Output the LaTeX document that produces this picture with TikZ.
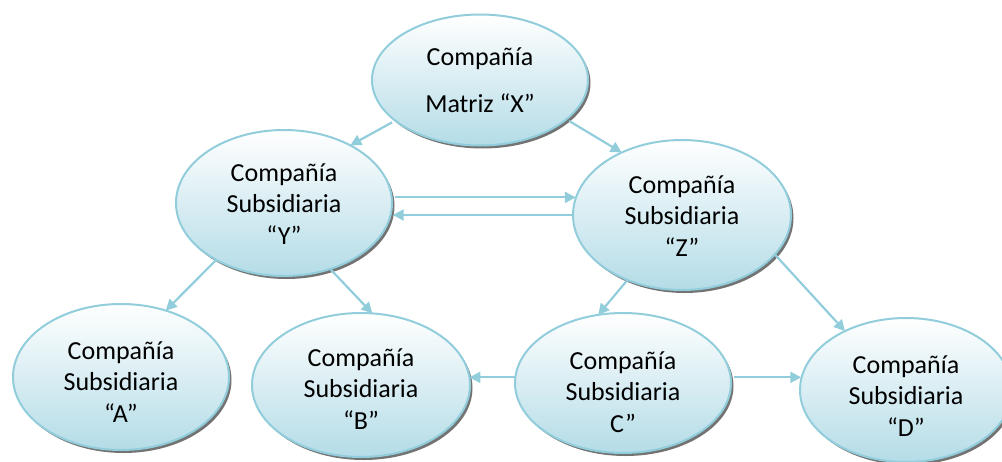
\documentclass[tikz,border=0pt]{standalone}
\usepackage{fontspec}
\setmainfont{Carlito}
\usetikzlibrary{arrows.meta,shadows,calc,shapes.geometric}
\definecolor{edgeblue}{RGB}{146,205,220}
\definecolor{fillblue}{RGB}{180,220,231}
\definecolor{arrblue}{RGB}{146,205,220}
\tikzset{
  ell/.style={ellipse, draw=edgeblue, line width=2pt, top color=white, bottom color=fillblue,
    middle color=fillblue!50, minimum width=216pt, minimum height=146pt, inner sep=0pt, outer sep=0pt,
    general shadow={fill=black!55, shadow xshift=2.5pt, shadow yshift=-3pt}},
  txt/.style={align=center, font=\fontsize{26}{31.5}\selectfont, inner sep=0pt},
  arr/.style={draw=arrblue, line width=2.2pt, -{Triangle[length=11pt,width=11pt]}, arrblue},
}
\begin{document}
\begin{tikzpicture}[x=1pt,y=-1pt]
\useasboundingbox (0,0) rectangle (1002,461);
% ellipses
\node[ell, minimum height=131pt] (X) at (480,80) {};
\node[ell] (Y) at (284,203) {};
\node[ell, minimum width=218pt, minimum height=150pt] (Z) at (682,215) {};
\node[ell] (A) at (121,377) {};
\node[ell, minimum width=218pt, minimum height=144pt] (B) at (361,385) {};
\node[ell, minimum height=140pt] (C) at (623,383) {};
\node[ell, minimum width=212pt, minimum height=144pt] (D) at (906,390) {};
% texts
\node[txt] (tX) at (X.center) {Compañía\\[16pt]Matriz “X”};
\node[txt] (tY) at ([yshift=-1pt]Y.center) {Compañía\\Subsidiaria\\“Y”};
\node[txt] (tZ) at ([yshift=-1pt]Z.center) {Compañía\\Subsidiaria\\“Z”};
\node[txt] (tA) at ([yshift=-5pt]A.center) {Compañía\\Subsidiaria\\“A”};
\node[txt] (tB) at ([yshift=-4pt]B.center) {Compañía\\Subsidiaria\\“B”};
\node[txt] (tC) at ([yshift=-9pt]C.center) {Compañía\\Subsidiaria\\C”};
\node[txt] (tD) at ([yshift=-6pt]D.center) {Compañía\\Subsidiaria\\“D”};
% connectors
\draw[arr] ([xshift=2pt,yshift=-6pt]X.202) -- (Y.41);
\draw[arr] ([xshift=-2pt,yshift=-6pt]X.-21) -- (Z.134);
\draw[arr] ([xshift=3pt]Y.3) -- (Y.3 -| Z.171);
\draw[arr] (Z.180) -- ([xshift=2pt]Z.180 -| Y.-6);
\draw[arr] (Y.220) -- (A.56);
\draw[arr] (Y.-55) -- (B.81);
\draw[arr] (Z.230) -- (C.110);
\draw[arr] (Z.-23) -- (D.136);
\draw[arr] (C.177) -- (C.177 -| B.4);
\draw[arr] ([xshift=3pt]C.3) -- (C.3 -| D.174);
\end{tikzpicture}
\end{document}
